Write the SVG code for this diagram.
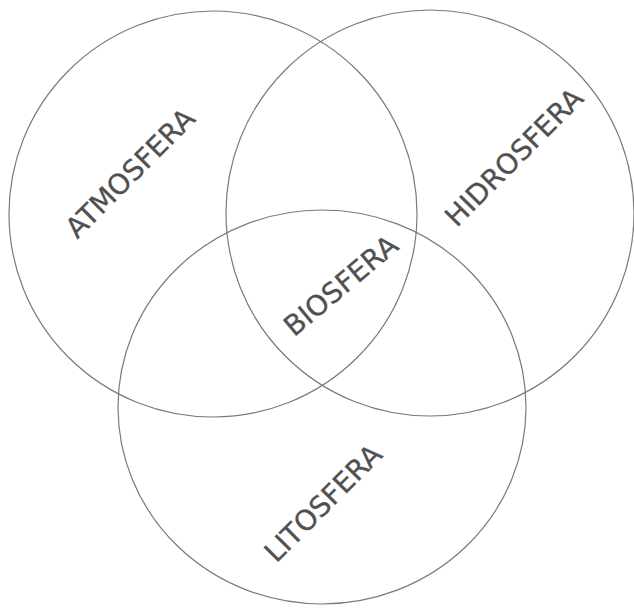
<svg xmlns="http://www.w3.org/2000/svg" width="634" height="613" viewBox="0 0 634 613">
<style>
.c{fill:none;stroke:#7a7a7a;stroke-width:1.2}
.t{font-family:"DejaVu Sans",Verdana,sans-serif;font-size:28px;fill:#505050;stroke:#505050;stroke-width:0.3;text-anchor:middle}
</style>
<rect width="634" height="613" fill="#fff"/>
<g id="atmosfera">
<ellipse class="c" cx="213" cy="214" rx="204" ry="203"/>
<text class="t" x="137" y="180" transform="rotate(-45 137 180)">ATMOSFERA</text>
</g>
<g id="hidrosfera">
<ellipse class="c" cx="430" cy="213" rx="204" ry="203"/>
<text class="t" x="521" y="164" transform="rotate(-45 521 164)">HIDROSFERA</text>
</g>
<g id="litosfera">
<ellipse class="c" cx="322" cy="407" rx="204" ry="197"/>
<text class="t" x="330" y="510" transform="rotate(-45 330 510)">LITOSFERA</text>
</g>
<g id="biosfera">
<text class="t" x="347" y="293" transform="rotate(-40 347 293)">BIOSFERA</text>
</g>
<g id="connectors"></g>
</svg>
